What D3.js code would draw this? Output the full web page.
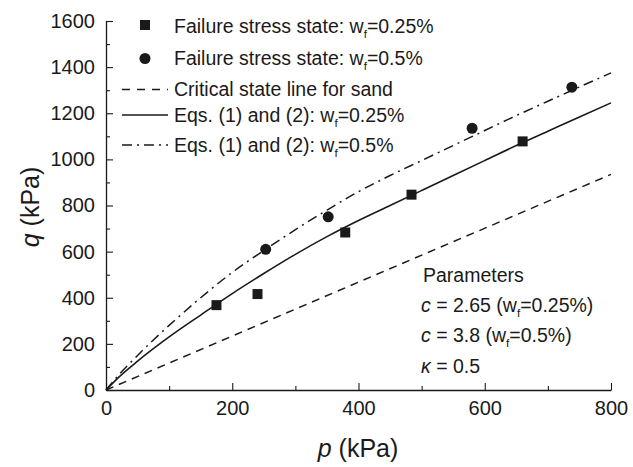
<!DOCTYPE html>
<html><head><meta charset="utf-8">
<script src="https://cdn.jsdelivr.net/npm/d3@7"></script>
<style>
html,body{margin:0;padding:0;background:#fff;}
svg text{font-family:"Liberation Sans",Arial,sans-serif;fill:#1a1a1a;}
</style></head>
<body><svg id="c" width="633" height="467"></svg>
<script>
// ---- data ----
const curveP   = [0, 20, 50, 100, 150, 200, 250, 300, 350, 400, 450, 500, 550, 600, 650, 700, 750, 800];
const eqQ025   = [0, 55, 125, 230, 325, 418, 505, 588, 665, 735, 800, 865, 930, 995, 1060, 1122, 1184, 1245];
const eqQ05    = [0, 65, 150, 280, 400, 510, 605, 695, 780, 860, 930, 995, 1060, 1125, 1190, 1252, 1314, 1375];
const cslP     = [0, 800];
const cslQ     = [0, 935];
const sqP      = [175, 240, 379, 484, 660];
const sqQ      = [368, 416, 683, 847, 1078];
const ciP      = [253, 352, 580, 738];
const ciQ      = [610, 751, 1135, 1313];
const xMajor   = [0, 200, 400, 600, 800];
const xMinor   = [100, 300, 500, 700];
const yMajor   = [0, 200, 400, 600, 800, 1000, 1200, 1400, 1600];
const yMinor   = [100, 300, 500, 700, 900, 1100, 1300, 1500];

const svg = d3.select("#c");
const ink = "#1a1a1a";
const x = d3.scaleLinear().domain([0, 800]).range([106, 611]);
const y = d3.scaleLinear().domain([0, 1600]).range([390, 21]);

// axes
function styleAxis(g){
  g.selectAll("path.domain").attr("stroke", ink).attr("stroke-width", 1.3);
  g.selectAll(".tick line").attr("stroke", ink).attr("stroke-width", 1.1);
  g.selectAll(".tick text").attr("font-size", 20).attr("fill", ink).style("font-family", '"Liberation Sans",Arial,sans-serif');
}
const gx = svg.append("g").attr("transform", "translate(0,390)")
  .call(d3.axisBottom(x).tickValues(xMajor).tickSize(-7).tickSizeOuter(0).tickPadding(11).tickFormat(d3.format("d")));
styleAxis(gx);
const gxm = svg.append("g").attr("transform", "translate(0,390)")
  .call(d3.axisBottom(x).tickValues(xMinor).tickSize(-4).tickSizeOuter(0).tickFormat(""));
styleAxis(gxm); gxm.select("path.domain").remove();

const gy = svg.append("g").attr("transform", "translate(106,0)")
  .call(d3.axisLeft(y).tickValues(yMajor).tickSize(-7).tickSizeOuter(0).tickPadding(11).tickFormat(d3.format("d")));
styleAxis(gy);
const gym = svg.append("g").attr("transform", "translate(106,0)")
  .call(d3.axisLeft(y).tickValues(yMinor).tickSize(-4).tickSizeOuter(0).tickFormat(""));
styleAxis(gym); gym.select("path.domain").remove();

// lines
const line = d3.line().x(d => x(d[0])).y(d => y(d[1])).curve(d3.curveMonotoneX);
svg.append("path").datum(cslP.map((p,i)=>[p,cslQ[i]])).attr("d", line)
  .attr("fill","none").attr("stroke",ink).attr("stroke-width",1.5).attr("stroke-dasharray","8,6");
svg.append("path").datum(curveP.map((p,i)=>[p,eqQ025[i]])).attr("d", line)
  .attr("fill","none").attr("stroke",ink).attr("stroke-width",1.6);
svg.append("path").datum(curveP.map((p,i)=>[p,eqQ05[i]])).attr("d", line)
  .attr("fill","none").attr("stroke",ink).attr("stroke-width",1.5).attr("stroke-dasharray","10,5,2,5");

// markers
svg.append("g").selectAll("rect").data(sqP.map((p,i)=>[p,sqQ[i]])).join("rect")
  .attr("x", d => x(d[0]) - 5).attr("y", d => y(d[1]) - 5).attr("width", 10).attr("height", 10).attr("fill", ink);
svg.append("g").selectAll("circle").data(ciP.map((p,i)=>[p,ciQ[i]])).join("circle")
  .attr("cx", d => x(d[0])).attr("cy", d => y(d[1])).attr("r", 5.5).attr("fill", ink);

// legend
function wText(g, xPos, yPos, pre, post, fs){
  const t = g.append("text").attr("x", xPos).attr("y", yPos).attr("font-size", fs);
  t.append("tspan").text(pre);
  t.append("tspan").attr("font-size", fs*0.6).attr("dy", 5).text("f");
  t.append("tspan").attr("dy", -5).text(post);
  return t;
}
const leg = svg.append("g");
leg.append("rect").attr("x",140).attr("y",20).attr("width",10).attr("height",10).attr("fill",ink);
wText(leg, 174, 33, "Failure stress state: w", "=0.25%", 19.5);
leg.append("circle").attr("cx",145).attr("cy",58.5).attr("r",5.5).attr("fill",ink);
wText(leg, 174, 65, "Failure stress state: w", "=0.5%", 19.5);
leg.append("line").attr("x1",122).attr("x2",168).attr("y1",89.5).attr("y2",89.5)
  .attr("stroke",ink).attr("stroke-width",1.5).attr("stroke-dasharray","8,7");
leg.append("text").attr("x",174).attr("y",96).attr("font-size",19.5).text("Critical state line for sand");
leg.append("line").attr("x1",122).attr("x2",168).attr("y1",115).attr("y2",115)
  .attr("stroke",ink).attr("stroke-width",1.6);
wText(leg, 174, 122, "Eqs. (1) and (2): w", "=0.25%", 19.5);
leg.append("line").attr("x1",122).attr("x2",168).attr("y1",145).attr("y2",145)
  .attr("stroke",ink).attr("stroke-width",1.5).attr("stroke-dasharray","10,5,2,5");
wText(leg, 174, 152, "Eqs. (1) and (2): w", "=0.5%", 19.5);

// parameters
const par = svg.append("g");
par.append("text").attr("x",423).attr("y",282).attr("font-size",19.5).text("Parameters");
function parLine(yPos, sym, pre, post){
  const t = par.append("text").attr("x",421).attr("y",yPos).attr("font-size",19.5);
  t.append("tspan").attr("font-style","italic").text(sym);
  t.append("tspan").text(pre);
  if (post !== null){
    t.append("tspan").attr("font-size",11.7).attr("dy",5).text("f");
    t.append("tspan").attr("dy",-5).text(post);
  }
}
parLine(312, "c", " = 2.65 (w", "=0.25%)");
parLine(342, "c", " = 3.8 (w", "=0.5%)");
parLine(373, "\u03BA", " = 0.5", null);

// axis titles
const xt = svg.append("text").attr("x", 358).attr("y", 457).attr("font-size", 25).attr("text-anchor","middle");
xt.append("tspan").attr("font-style","italic").text("p");
xt.append("tspan").text(" (kPa)");
const yt = svg.append("text").attr("transform","translate(39,207) rotate(-90)").attr("font-size", 25).attr("text-anchor","middle");
yt.append("tspan").attr("font-style","italic").text("q");
yt.append("tspan").text(" (kPa)");
</script>
</body></html>
